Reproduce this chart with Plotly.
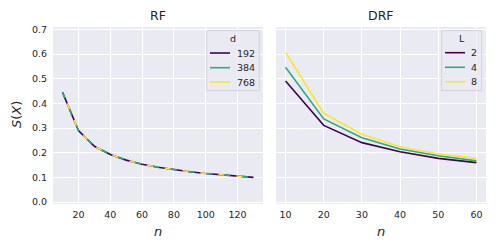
import plotly.graph_objects as go

# ---- data ----
rf_n = [10, 20, 30, 40, 50, 60, 70, 80, 90, 100, 110, 120, 130]
rf_s = [0.445, 0.29, 0.226, 0.193, 0.170, 0.153, 0.141, 0.131, 0.123, 0.116, 0.111, 0.105, 0.100]
rf_d = ["192", "384", "768"]

drf_n = [10, 20, 30, 40, 50, 60]
drf_L = ["2", "4", "8"]
drf_s_L2 = [0.491, 0.311, 0.241, 0.204, 0.177, 0.160]
drf_s_L4 = [0.547, 0.337, 0.261, 0.215, 0.188, 0.167]
drf_s_L8 = [0.607, 0.360, 0.275, 0.224, 0.195, 0.177]

colors = ["#440154", "#27ad81", "#fde725"]
rf_dashes = ["solid", "6px,12px", "0px,12px,6px,0px"]

OFF = 8  # browser body margin
W, H = 498 - OFF, 249 - OFF
TXT = "#262626"
fig = go.Figure()

# RF: all three series overlap
for name, col, dash in zip(rf_d, colors, rf_dashes):
    fig.add_trace(go.Scatter(x=rf_n, y=rf_s, mode="lines", name=name, xaxis="x", yaxis="y",
                             line=dict(color=col, width=1.6, dash=dash),
                             showlegend=False))

for name, col, ys in zip(drf_L, colors, [drf_s_L2, drf_s_L4, drf_s_L8]):
    fig.add_trace(go.Scatter(x=drf_n, y=ys, mode="lines", name=name, xaxis="x2", yaxis="y2",
                             line=dict(color=col, width=1.6), showlegend=False))

def px(x):
    return (x - OFF) / W

def py(y):
    return 1 - (y - OFF) / H

ydom = [py(204), py(27)]
tickfont = dict(family="DejaVu Sans", size=9.5, color=TXT)
common_axis = dict(showgrid=True, gridcolor="white", gridwidth=1, zeroline=False,
                   showline=False, ticks="", automargin=False)

shapes = []
annotations = []

def ann(text, x, y, size=9.5, xanchor="center", **kw):
    annotations.append(dict(text=text, x=px(x), y=py(y), xref="paper", yref="paper",
                            xanchor=xanchor, yanchor="middle", showarrow=False,
                            font=dict(size=size, color=TXT), **kw))

def add_legend(x0, x1, y0, y1, title, labels, line_x0, line_x1, text_right, title_y, rows_y):
    shapes.append(dict(type="rect", xref="paper", yref="paper",
                       x0=px(x0), x1=px(x1), y0=py(y1), y1=py(y0),
                       fillcolor="rgba(234,234,242,0.8)", line=dict(color="#d2d2da", width=1),
                       layer="above"))
    ann(title, (x0 + x1) / 2, title_y)
    for lab, col, ry in zip(labels, colors, rows_y):
        shapes.append(dict(type="line", xref="paper", yref="paper",
                           x0=px(line_x0), x1=px(line_x1), y0=py(ry), y1=py(ry),
                           line=dict(color=col, width=1.6), layer="above"))
        ann(lab, text_right, ry, xanchor="right")

add_legend(206.7, 259.3, 30.7, 90.7, "d", rf_d, 210, 230, 257, 38.7, [53, 67.7, 82])
add_legend(441.7, 481.7, 30.7, 90.7, "L", drf_L, 445, 465, 479, 38.7, [52.7, 67.3, 81.7])

ann("RF", 158, 16, size=12.5)
ann("DRF", 381, 16, size=12.5)
ann("<i>n</i>", 158, 231, size=13)
ann("<i>n</i>", 381, 231, size=13)
ann("<i>S</i>(<i>X</i>)", 16, 115, size=13, textangle=-90)

fig.update_layout(
    width=W, height=H,
    margin=dict(l=0, r=0, t=0, b=0),
    paper_bgcolor="white",
    plot_bgcolor="#EAEAF2",
    font=dict(family="DejaVu Sans", color=TXT),
    showlegend=False,
    xaxis=dict(domain=[px(53), px(263)], range=[4, 136], tickvals=[20, 40, 60, 80, 100, 120],
               anchor="y", tickfont=tickfont, ticklabelstandoff=3, **common_axis),
    yaxis=dict(domain=ydom, range=[-0.008, 0.71], tickvals=[0, 0.1, 0.2, 0.3, 0.4, 0.5, 0.6, 0.7],
               tickformat=".1f", anchor="x", tickfont=tickfont, ticklabelstandoff=5, **common_axis),
    xaxis2=dict(domain=[px(276), px(486)], range=[7.5, 62.5], tickvals=[10, 20, 30, 40, 50, 60],
                anchor="y2", tickfont=tickfont, ticklabelstandoff=3, **common_axis),
    yaxis2=dict(domain=ydom, range=[-0.008, 0.71], tickvals=[0, 0.1, 0.2, 0.3, 0.4, 0.5, 0.6, 0.7],
                showticklabels=False, anchor="x2", **common_axis),
    shapes=shapes,
    annotations=annotations,
)

fig.write_html("out.html")
